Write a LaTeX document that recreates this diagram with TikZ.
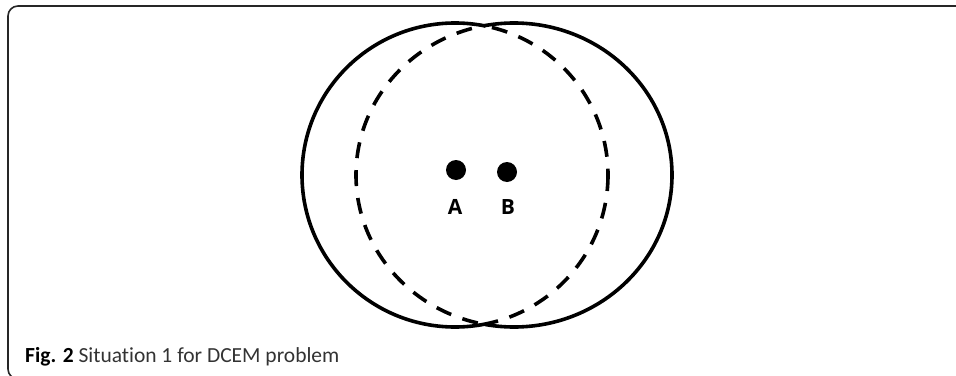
\documentclass[tikz,border=0pt]{standalone}
\usepackage{fontspec}
\setmainfont{Open Sans}
\newfontfamily\capfont[Ligatures=NoCommon]{Carlito}
\begin{document}
\begin{tikzpicture}[x=1pt,y=-1pt,
  ring/.style={line width=3.6pt,black},
  ringdash/.style={line width=3.6pt,black,dash pattern=on 16pt off 12pt},
  dotmark/.style={circle,fill=black,inner sep=0pt,minimum size=20pt},
  lbl/.style={font=\fontsize{21}{21}\selectfont\bfseries,inner sep=0pt},
  captext/.style={font=\capfont\fontsize{21.5}{21}\selectfont,text=black!80,inner sep=0pt,anchor=base west}]
\useasboundingbox (0,0) rectangle (956,375);
\begin{scope}
\clip (0,0) rectangle (956,375);
\draw[line width=1.6pt,black!85,rounded corners=10pt] (975,6) -- (8,6) -- (8,379) -- (975,379);
\end{scope}
\coordinate (c1) at (455,175);
\coordinate (c2) at (514,175);
\begin{scope}
\clip (0,0) rectangle (485,375);
\draw[ring] (c1) ellipse[x radius=153,y radius=152];
\draw[ringdash] (c2) ellipse[x radius=158,y radius=152];
\end{scope}
\begin{scope}
\clip (485,0) rectangle (956,375);
\draw[ring] (c2) ellipse[x radius=158,y radius=152];
\draw[ringdash] (c1) ellipse[x radius=153,y radius=152];
\end{scope}
\node[dotmark] (A) at (456,170) {};
\node[dotmark] (B) at (507,172) {};
\node[lbl] (la) at (455,207) {A};
\node[lbl] (lb) at (508,207) {B};
\node[captext] (caption) at (25,362) {\textbf{\color{black}Fig. 2} Situation 1 for DCEM problem};
\end{tikzpicture}
\end{document}
